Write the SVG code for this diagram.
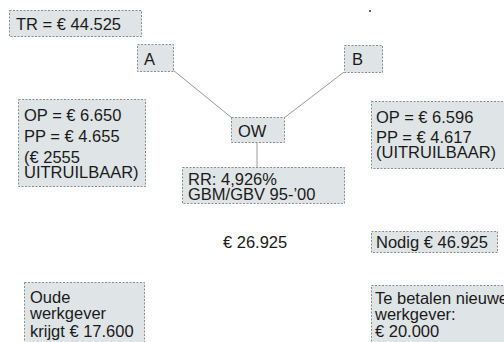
<svg xmlns="http://www.w3.org/2000/svg" width="504" height="342" viewBox="0 0 504 342">
<style>
.box{fill:#dfe4e6;stroke:#8c8c8c;stroke-width:1;stroke-dasharray:2 1.5}
.t{font-family:"Liberation Sans",Arial,sans-serif;font-size:16.5px;fill:#1a1a1a}
.c{stroke:#9a9a9a;stroke-width:1;fill:none}
</style>
<rect width="504" height="342" fill="#ffffff"/>
<circle cx="370" cy="11" r="1" fill="#333"/>
<g id="connectors">
<line class="c" x1="173" y1="70" x2="232" y2="118"/>
<line class="c" x1="284" y1="118" x2="344" y2="72"/>
<line class="c" x1="257" y1="143" x2="257" y2="167"/>
</g>
<g id="tr"><rect class="box" x="9.5" y="10.5" width="132" height="26"/><text class="t" x="16" y="29.5">TR = € 44.525</text></g>
<g id="a"><rect class="box" x="137.5" y="44.5" width="36" height="27"/><text class="t" x="144" y="64.5">A</text></g>
<g id="b"><rect class="box" x="344.5" y="45.5" width="38" height="27"/><text class="t" x="352" y="65">B</text></g>
<g id="op-left"><rect class="box" x="18.5" y="99.5" width="127" height="87"/>
<text class="t" x="24" y="121">OP = € 6.650</text>
<text class="t" x="24" y="142">PP = € 4.655</text>
<text class="t" x="24" y="162.5">(€ 2555</text>
<text class="t" x="24" y="177.5">UITRUILBAAR)</text></g>
<g id="ow"><rect class="box" x="231.5" y="117.5" width="53" height="25"/><text class="t" x="238" y="136.5">OW</text></g>
<g id="rr"><rect class="box" x="182.5" y="167.5" width="162" height="36"/>
<text class="t" x="188" y="184.5">RR: 4,926%</text>
<text class="t" x="188" y="199.5">GBM/GBV 95-’00</text></g>
<g id="op-right"><rect class="box" x="371.5" y="101.5" width="140" height="67"/>
<text class="t" x="376" y="122.5">OP = € 6.596</text>
<text class="t" x="376" y="142.5">PP = € 4.617</text>
<text class="t" x="376" y="158">(UITRUILBAAR)</text></g>
<g id="total"><text class="t" x="223" y="247.5">€ 26.925</text></g>
<g id="nodig"><rect class="box" x="371.5" y="231.5" width="126" height="21"/><text class="t" x="376" y="247.5">Nodig € 46.925</text></g>
<g id="oude"><rect class="box" x="24.5" y="282.5" width="120" height="70"/>
<text class="t" x="30" y="302.5">Oude</text>
<text class="t" x="30" y="318.5">werkgever</text>
<text class="t" x="30" y="337">krijgt € 17.600</text></g>
<g id="nieuw"><rect class="box" x="371.5" y="285.5" width="140" height="70"/>
<text class="t" x="375" y="303.5">Te betalen nieuwe</text>
<text class="t" x="375" y="319.5">werkgever:</text>
<text class="t" x="375" y="336.5">€ 20.000</text></g>
</svg>
